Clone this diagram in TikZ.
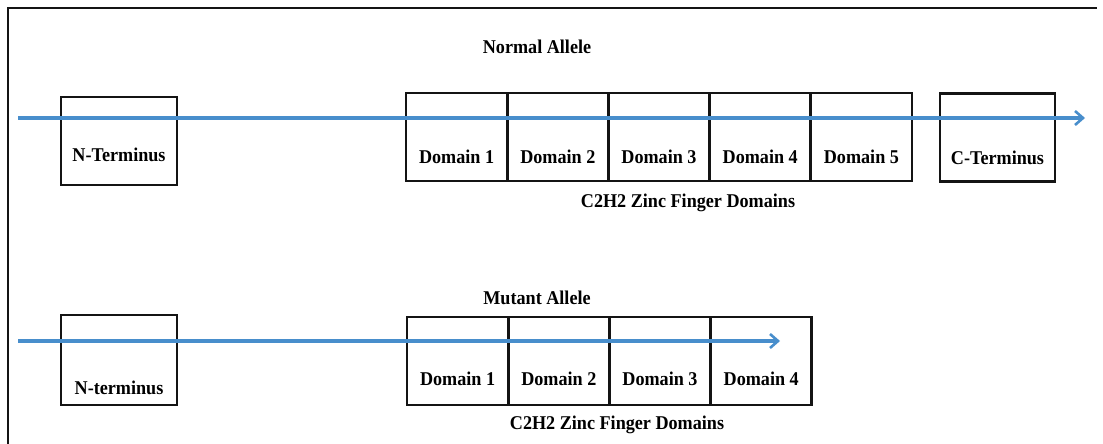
\documentclass[tikz,border=0pt]{standalone}
\usepackage{fontspec}
\newfontfamily\figfont{Liberation Serif}[FakeStretch=0.93]
\usepackage{tikz}
\usepackage{xcolor}
\usetikzlibrary{arrows.meta,positioning}
\definecolor{strand}{RGB}{72,142,204}
\definecolor{boxline}{RGB}{20,20,20}

\begin{document}
\begin{tikzpicture}[x=1pt, y=-1pt,
    font=\figfont\bfseries\fontsize{19.5}{23}\selectfont,
    dombox/.style={draw=boxline, line width=2.7pt, outer sep=0pt, inner sep=2pt,
      minimum width=101.2pt, minimum height=88pt, text depth=6pt, text height=#1},
    dombox/.default=59pt,
    termbox/.style={dombox=#1, minimum width=116pt},
    chain/.style={-{Straight Barb[length=8pt, width=14pt, line width=2.6pt]},
      line width=3.4pt, strand}]

  \useasboundingbox (0,0) rectangle (1103,444);

  % Page frame
  \draw[line width=2.4pt, boxline] (8,444) -- (8,8) -- (1097,8);

  % Normal allele
  \node (nlabel) at (537,47) {Normal Allele};
  \node[termbox=47pt, minimum height=88pt] (nnterm) at (119,141) {N-Terminus};
  \node[dombox] (nd1) at (456.6,137) {Domain 1};
  \foreach \i [remember=\i as \j (initially 1)] in {2,...,5}
    \node[dombox, right=0pt of nd\j] (nd\i) {Domain \i};
  \node[termbox, minimum width=115pt] (ncterm) at (997.5,137.5) {C-Terminus};
  \node (nzinc) at (688,203) {C2H2 Zinc Finger Domains};

  % Mutant allele
  \node (mlabel) at (537,298) {Mutant Allele};
  \node[termbox=74pt, minimum height=90pt] (mnterm) at (119,360) {N-terminus};
  \node[dombox=55pt] (md1) at (457.6,361) {Domain 1};
  \foreach \i [remember=\i as \j (initially 1)] in {2,...,4}
    \node[dombox=55pt, right=0pt of md\j] (md\i) {Domain \i};
  \node (mzinc) at (617,425) {C2H2 Zinc Finger Domains};

  % Protein chains
  \coordinate (nstart) at (18,118);
  \coordinate (nend) at (1085,118);
  \coordinate (mstart) at (18,341);
  \coordinate (mend) at (780,341);
  \draw[chain] (nstart) -- (nend);
  \draw[chain] (mstart) -- (mend);

\end{tikzpicture}
\end{document}
